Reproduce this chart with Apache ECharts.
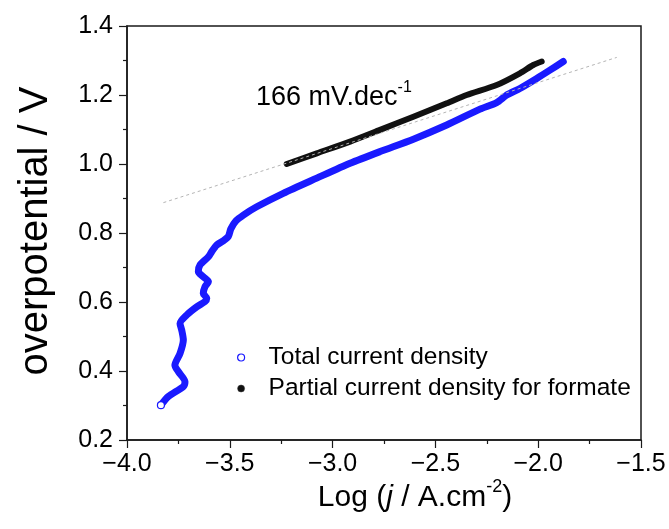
<!DOCTYPE html>
<html>
<head>
<meta charset="utf-8">
<script src="https://cdn.jsdelivr.net/npm/echarts@6/dist/echarts.min.js"></script>
<style>
html,body{margin:0;padding:0;background:#fff;}
#chart{width:669px;height:529px;}
</style>
</head>
<body>
<div id="chart"></div>
<script>
// ---- data ----
const totalX = [-3.835,-3.799,-3.726,-3.718,-3.750,-3.767,-3.742,-3.726,-3.734,-3.742,-3.710,-3.661,-3.621,-3.612,-3.629,-3.621,-3.604,-3.629,-3.653,-3.645,-3.604,-3.588,-3.564,-3.530,-3.507,-3.495,-3.470,-3.434,-3.369,-3.240,-3.077,-2.915,-2.769,-2.607,-2.445,-2.283,-2.202,-2.153,-2.089,-2.007,-1.943,-1.878];
const totalY = [0.301,0.326,0.355,0.369,0.398,0.417,0.451,0.490,0.519,0.538,0.562,0.586,0.601,0.611,0.625,0.644,0.659,0.673,0.688,0.707,0.731,0.746,0.765,0.778,0.790,0.812,0.835,0.852,0.876,0.915,0.959,1.002,1.036,1.072,1.113,1.159,1.178,1.200,1.219,1.248,1.272,1.297];
const formateX = [-3.223,-3.077,-2.915,-2.769,-2.607,-2.445,-2.348,-2.202,-2.089,-2.024,-1.983];
const formateY = [1.000,1.031,1.065,1.099,1.137,1.176,1.200,1.229,1.263,1.287,1.297];
const fitX = [-3.823,-1.618];
const fitY = [0.888,1.309];
const seriesNames = ['Total current density','Partial current density for formate'];
const slopeLabel = '166 mV.dec';
const slopeSup = '-1';
const xTicks = {min:-4.0, max:-1.5, step:0.5};
const yTicks = {min:0.2, max:1.4, step:0.2};

const FONT = '"Liberation Sans", Arial, sans-serif';
const zip = (xs, ys) => xs.map((x, i) => [x, ys[i]]);

const totalData = zip(totalX, totalY).map((p, i) => i === 0 ? {value: p, symbol: 'circle', symbolSize: 7} : {value: p});

const chart = echarts.init(document.getElementById('chart'), null, {renderer: 'canvas'});
chart.setOption({
  animation: false,
  backgroundColor: '#fff',
  grid: {left: 127, right: 28, top: 26, bottom: 89, show: true, borderColor: '#1a1a1a', borderWidth: 1.5, backgroundColor: 'transparent'},
  xAxis: {
    type: 'value', min: xTicks.min, max: xTicks.max, interval: xTicks.step,
    axisLine: {show: true, onZero: false, lineStyle: {color: '#1a1a1a', width: 1.5}},
    axisTick: {show: true, inside: false, length: 8, lineStyle: {color: '#1a1a1a', width: 1.2}},
    minorTick: {show: true, splitNumber: 2, length: 4, lineStyle: {color: '#1a1a1a', width: 1.2}},
    splitLine: {show: false},
    axisLabel: {margin: 12, color: '#000', fontFamily: FONT, fontSize: 25,
      formatter: v => v.toFixed(1).replace('-', '\u2212')}
  },
  yAxis: {
    type: 'value', min: yTicks.min, max: yTicks.max, interval: yTicks.step,
    axisLine: {show: true, onZero: false, lineStyle: {color: '#1a1a1a', width: 1.5}},
    axisTick: {show: true, inside: false, length: 8, lineStyle: {color: '#1a1a1a', width: 1.2}},
    minorTick: {show: true, splitNumber: 2, length: 4, lineStyle: {color: '#1a1a1a', width: 1.2}},
    splitLine: {show: false},
    axisLabel: {margin: 14, color: '#000', fontFamily: FONT, fontSize: 25,
      formatter: v => v.toFixed(1)}
  },
  legend: {
    orient: 'vertical', left: 232, top: 339, itemWidth: 7, itemHeight: 7, itemGap: 4,
    selectedMode: false,
    textStyle: {color: '#000', fontFamily: FONT, fontSize: 24.5, lineHeight: 27, padding: [0, 0, 0, 19]},
    data: [
      {name: seriesNames[0], icon: 'circle', itemStyle: {color: '#fff', borderColor: '#1a1aff', borderWidth: 1.2}},
      {name: seriesNames[1], icon: 'circle', itemStyle: {color: '#111', borderColor: '#333', borderWidth: 0.5}}
    ]
  },
  series: [
    {
      name: seriesNames[0], type: 'line', data: totalData, smooth: 0.25,
      symbol: 'none', showSymbol: true,
      itemStyle: {color: '#fff', borderColor: '#1a1aff', borderWidth: 1.2},
      lineStyle: {color: '#1a1aff', width: 7, cap: 'round', join: 'round'},
      z: 2
    },
    {
      name: seriesNames[1], type: 'line', data: zip(formateX, formateY), smooth: 0.25,
      symbol: 'none', showSymbol: false,
      itemStyle: {color: '#111'},
      lineStyle: {color: '#111', width: 6, cap: 'round', join: 'round'},
      z: 3
    },
    {
      name: 'fit', type: 'line', data: zip(fitX, fitY),
      symbol: 'none', showSymbol: false, silent: true,
      lineStyle: {color: '#b5b5b5', width: 1, type: [3, 3]},
      z: 4
    }
  ],
  graphic: [
    {
      type: 'text', left: 256, top: 80, z: 10,
      style: {
        text: '{a|' + slopeLabel + '}{s|' + slopeSup + '}',
        rich: {
          a: {fontFamily: FONT, fontSize: 27, lineHeight: 36, fill: '#000'},
          s: {fontFamily: FONT, fontSize: 16, lineHeight: 16, verticalAlign: 'top', fill: '#000'}
        }
      }
    },
    {
      type: 'text', x: 415, y: 498, z: 10,
      style: {
        text: '{a|Log (}{i|j}{a| / A.cm}{s|-2}{a|)}',
        align: 'center', verticalAlign: 'middle',
        rich: {
          a: {fontFamily: FONT, fontSize: 30, lineHeight: 40, fill: '#000'},
          i: {fontFamily: FONT, fontSize: 30, fontStyle: 'italic', lineHeight: 40, fill: '#000'},
          s: {fontFamily: FONT, fontSize: 18, lineHeight: 18, verticalAlign: 'top', fill: '#000'}
        }
      }
    },
    {
      type: 'text', x: 36, y: 231, rotation: Math.PI / 2, z: 10,
      style: {
        text: 'overpotential / V', fontFamily: FONT, fontSize: 40, fill: '#000',
        align: 'center', verticalAlign: 'middle'
      }
    }
  ]
});
</script>
</body>
</html>
